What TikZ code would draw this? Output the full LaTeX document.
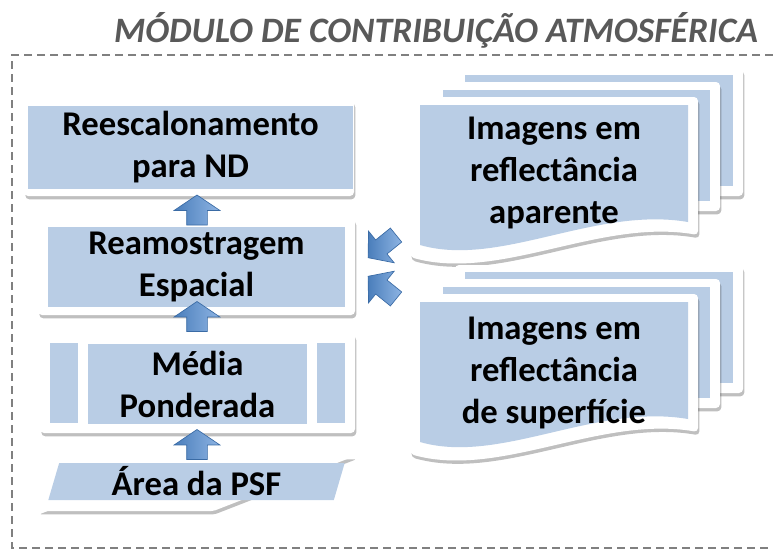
\documentclass[tikz,border=0pt]{standalone}
\usepackage{fontspec}
\setmainfont{Carlito}
\usepackage{tikz}
\usetikzlibrary{shapes.geometric,shapes.arrows,shadows,positioning}
\definecolor{PanelBlue}{HTML}{B9CDE5}
\definecolor{TitleGray}{HTML}{595959}
\definecolor{FrameGray}{HTML}{808080}
\definecolor{ArrowLight}{HTML}{8EB4E3}
\definecolor{ArrowDark}{HTML}{4A7EBB}
\definecolor{ArrowLine}{HTML}{3A6BA5}

\begin{document}
\begin{tikzpicture}[
  x=0.75pt, y=0.75pt,
  every node/.style={font=\bfseries\fontsize{26}{31.5}\selectfont, align=center},
  heading/.style={font=\bfseries\itshape\fontsize{26.8}{30}\selectfont, text=TitleGray},
  frame/.style={draw=FrameGray, line width=1.5pt, dash pattern=on 6pt off 3.75pt},
  whitebox/.style={fill=white, rounded corners=3pt, inner sep=0pt, drop shadow={opacity=0.25, shadow xshift=1pt, shadow yshift=-2.5pt, fill=black}},
  sheet/.style={fill=white, rounded corners=3pt, drop shadow={opacity=0.25, shadow xshift=1pt, shadow yshift=-2.5pt, fill=black}},
  panel/.style={fill=PanelBlue, inner sep=0pt},
  blockarrow/.style={single arrow, draw=ArrowLine, line width=0.5pt, left color=ArrowDark, right color=ArrowLight, inner xsep=0pt, inner ysep=7.5pt, minimum height=22.5pt, single arrow head extend=9.4pt, single arrow tip angle=112},
  sidearrow/.style={blockarrow, inner ysep=6.5pt, minimum height=27pt, single arrow head extend=8.5pt, single arrow tip angle=100}
]
  \useasboundingbox (0,0) rectangle (773,-553);

  \node[heading] (titulo) at (436,-30) {MÓDULO DE CONTRIBUIÇÃO ATMOSFÉRICA};
  \draw[frame] (773,-55) -- (12,-55) -- (12,-548) -- (773,-548);

  % coluna da esquerda
  \node[whitebox, minimum width=247.5pt, minimum height=72pt] (reescBox) at (189,-148) {};
  \node[panel, minimum width=243.75pt, minimum height=62.25pt] (reesc) at (190.5,-147.5) {Reescalonamento\\para ND};

  \node[whitebox, minimum width=237.75pt, minimum height=72.75pt] (reamBox) at (196.5,-266.5) {};
  \node[panel, minimum width=222.75pt, minimum height=60pt] (ream) at (196.5,-267) {Reamostragem\\Espacial};

  \node[whitebox, minimum width=236.25pt, minimum height=75pt] (mediaBox) at (197.5,-383) {};
  \node[panel, minimum width=21pt, minimum height=60pt] (mediaL) at (64,-383) {};
  \node[panel, minimum width=164.25pt, minimum height=60pt] (media) at (197.5,-384) {Média\\Ponderada};
  \node[panel, minimum width=21pt, minimum height=60pt] (mediaR) at (331,-383) {};

  \node[whitebox, trapezium, rounded corners=1.5pt, inner sep=1pt, trapezium left angle=76, trapezium right angle=104, trapezium stretches=true, minimum width=237.75pt, minimum height=41.25pt] (areaBox) at (196.5,-483.5) {\strut};
  \node[panel, trapezium, inner sep=1pt, trapezium left angle=78, trapezium right angle=102, trapezium stretches=true, minimum width=222.75pt, minimum height=27.75pt] (area) at (196.5,-481.5) {Área da PSF};

  % pilhas de imagens
  \foreach \dy in {0,197} {
    \begin{scope}[yshift=-\dy*0.75pt]
      \fill[sheet] (455,-68) rectangle (743,-196);
      \fill[PanelBlue] (465,-75) rectangle (733,-186);
      \fill[sheet] (433,-82) rectangle (720,-211);
      \fill[PanelBlue] (443,-90) rectangle (710,-201);
      \fill[sheet] (410,-97) -- (698,-97) -- (698,-235) .. controls (600,-218) and (500,-282) .. (410,-257) -- cycle;
      \fill[PanelBlue] (420,-105) -- (688,-105) -- (688,-222) .. controls (595,-206) and (500,-268) .. (420,-245) -- cycle;
    \end{scope}
  }
  \node (aparente) at (554,-173) {Imagens em\\reflectância\\aparente};
  \node (superficie) at (554,-373) {Imagens em\\reflectância\\de superfície};

  % setas
  \node[blockarrow, rotate=90] (up1) at (197,-213.5) {};
  \node[blockarrow, rotate=90] (up2) at (197,-320) {};
  \node[blockarrow, rotate=90] (up3) at (197,-448) {};
  \node[sidearrow, rotate=219] (inA) at (385,-244) {};
  \node[sidearrow, rotate=141] (inB) at (385,-290) {};
\end{tikzpicture}
\end{document}
